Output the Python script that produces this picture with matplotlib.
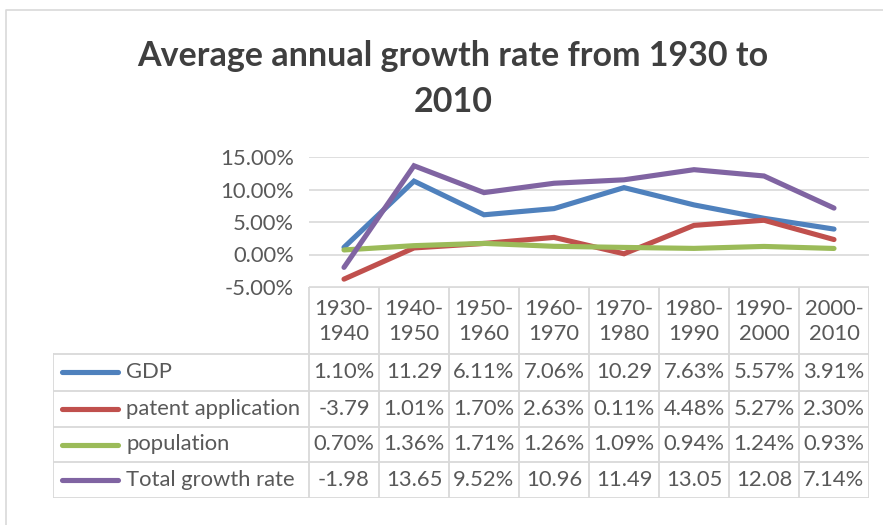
import numpy as np
import matplotlib
matplotlib.use('Agg')
import matplotlib.pyplot as plt
from matplotlib.ticker import FuncFormatter

# Donnees
periods = ['1930-\n1940', '1940-\n1950', '1950-\n1960', '1960-\n1970',
           '1970-\n1980', '1980-\n1990', '1990-\n2000', '2000-\n2010']
series_names = ['GDP', 'patent application', 'population', 'Total growth rate']
gdp = [1.10, 11.29, 6.11, 7.06, 10.29, 7.63, 5.57, 3.91]
patent = [-3.79, 1.01, 1.70, 2.63, 0.11, 4.48, 5.27, 2.30]
population = [0.70, 1.36, 1.71, 1.26, 1.09, 0.94, 1.24, 0.93]
total = [-1.98, 13.65, 9.52, 10.96, 11.49, 13.05, 12.08, 7.14]
# texte tel qu'affiche dans le tableau (tronque par Excel)
gdp_txt = ['1.10%', '11.29', '6.11%', '7.06%', '10.29', '7.63%', '5.57%', '3.91%']
patent_txt = ['-3.79', '1.01%', '1.70%', '2.63%', '0.11%', '4.48%', '5.27%', '2.30%']
population_txt = ['0.70%', '1.36%', '1.71%', '1.26%', '1.09%', '0.94%', '1.24%', '0.93%']
total_txt = ['-1.98', '13.65', '9.52%', '10.96', '11.49', '13.05', '12.08', '7.14%']
yticks = [-5, 0, 5, 10, 15]

colors = ['#4F81BD', '#C0504D', '#9BBB59', '#8064A2']
txt_col = '#595959'
grid_col = '#D9D9D9'
font = 'Lato'
fs = 15.8

W, H = 883, 525
fig = plt.figure(figsize=(W / 100, H / 100), dpi=100)

# cadre du graphique
frame = fig.add_axes([0, 0, 1, 1])
frame.set_xlim(0, W)
frame.set_ylim(H, 0)
frame.axis('off')
frame.plot([6, 6, W], [H, 10, 10], color=grid_col, lw=1.2)

# titre
fig.text(453 / W, 1 - 79 / H, 'Average annual growth rate from 1930 to\n2010',
         ha='center', va='center', fontsize=24.5, fontweight='bold',
         family=font, color='#3F3F3F', linespacing=1.5)

# zone de trace
px0, px1, py0, py1 = 309, 869, 157, 287
ax = fig.add_axes([px0 / W, 1 - py1 / H, (px1 - px0) / W, (py1 - py0) / H])
x = np.arange(len(periods))
for vals, c in zip([gdp, patent, population, total], colors):
    ax.plot(x, vals, color=c, lw=3.7, solid_capstyle='round',
            solid_joinstyle='miter', zorder=3)
ax.set_xlim(-0.5, len(periods) - 0.5)
ax.set_ylim(-5, 15)
ax.set_yticks(yticks)
ax.yaxis.set_major_formatter(FuncFormatter(lambda v, p: '%.2f%%' % v))
ax.grid(axis='y', color=grid_col, lw=1.2)
ax.set_axisbelow(True)
ax.set_xticks([])
for s in ax.spines.values():
    s.set_visible(False)
ax.tick_params(axis='y', length=0, pad=11, labelsize=fs, labelcolor=txt_col)
for lab in ax.get_yticklabels():
    lab.set_family(font)

# tableau de donnees
tx0, ty1 = 53, 498
tab = fig.add_axes([tx0 / W, 1 - ty1 / H, (px1 - tx0) / W, (ty1 - py1) / H])
tab.set_xlim(tx0, px1)
tab.set_ylim(ty1, py1)
tab.axis('off')
edges = np.linspace(px0, px1, len(periods) + 1)
centers = (edges[:-1] + edges[1:]) / 2
row_y = [287, 354, 391, 427, 462, 498]
lw_t = 1.3
# lignes horizontales
tab.plot([px0, px1], [row_y[0], row_y[0]], color=grid_col, lw=lw_t)
for yy in row_y[1:]:
    tab.plot([tx0, px1], [yy, yy], color=grid_col, lw=lw_t)
# lignes verticales
for ex in edges:
    tab.plot([ex, ex], [row_y[0], row_y[-1]], color=grid_col, lw=lw_t)
tab.plot([tx0, tx0], [row_y[1], row_y[-1]], color=grid_col, lw=lw_t)

# en-tete
for cx, lab in zip(centers, periods):
    tab.text(cx, (row_y[0] + row_y[1]) / 2 + 1, lab, ha='center', va='center',
             fontsize=fs, family=font, color=txt_col, linespacing=1.35)

texts = [gdp_txt, patent_txt, population_txt, total_txt]
for i, (name, c, row) in enumerate(zip(series_names, colors, texts)):
    ym = (row_y[i + 1] + row_y[i + 2]) / 2
    tab.plot([62, 118], [ym, ym], color=c, lw=3.7, solid_capstyle='round')
    tab.text(126, ym, name, ha='left', va='center', fontsize=fs,
             family=font, color=txt_col)
    for cx, t in zip(centers, row):
        tab.text(cx, ym, t, ha='center', va='center', fontsize=fs,
                 family=font, color=txt_col)

plt.savefig('out.png', dpi=100)
